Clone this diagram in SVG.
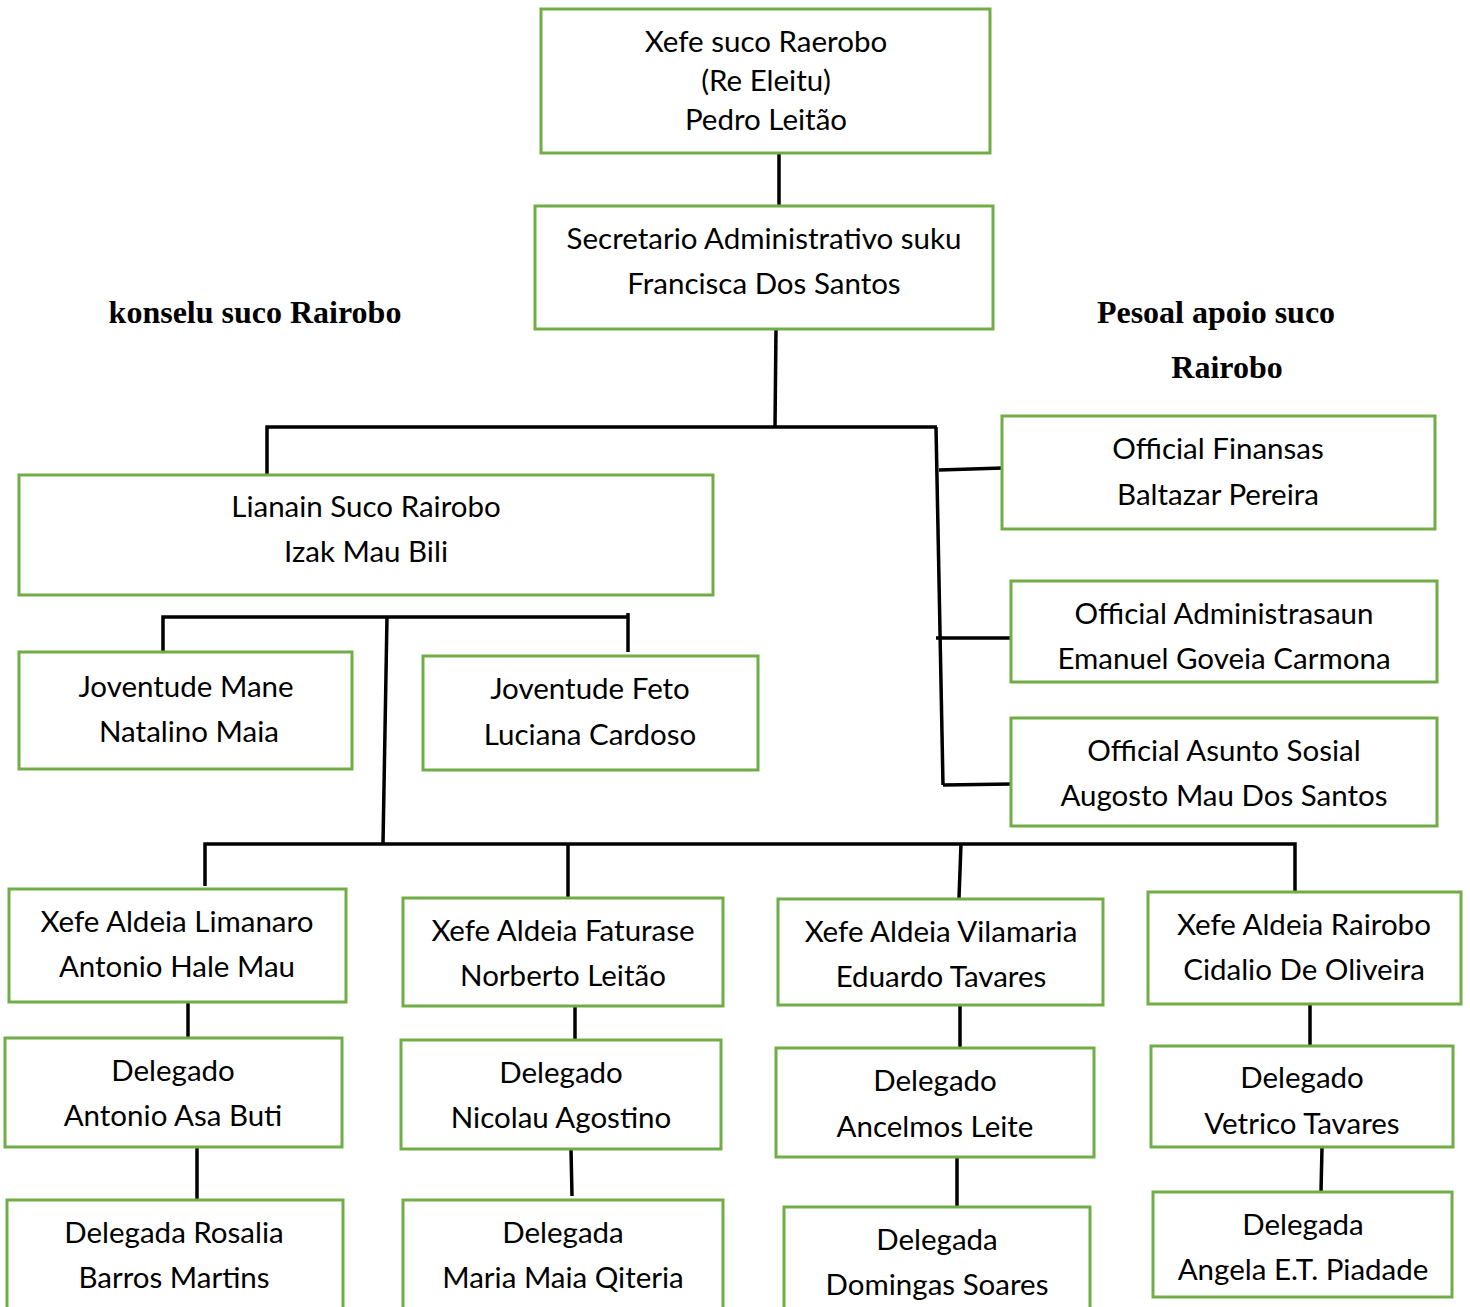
<svg xmlns="http://www.w3.org/2000/svg" width="1470" height="1307" viewBox="0 0 1470 1307">
<style>
.b{fill:#fff;stroke:#70AD47;stroke-width:3}
.t{font-family:Lato,"Liberation Sans",sans-serif;font-size:29.5px;fill:#000;text-anchor:middle;dominant-baseline:central}
.h{font-family:"Liberation Serif",serif;font-size:32px;font-weight:bold;fill:#000;text-anchor:middle;dominant-baseline:central}
.c{stroke:#000;stroke-width:3.5;fill:none}
</style>
<rect width="1470" height="1307" fill="#fff"/>
<g id="connectors" class="c">
<path d="M779 153V207"/>
<path d="M776 329L775 427"/>
<path d="M267 475V427H937"/>
<path d="M936 427L943 785"/>
<path d="M939 470L1003 468"/>
<path d="M936 638H1012"/>
<path d="M943 785L1012 784"/>
<path d="M163 654V617H628"/>
<path d="M628 613V652"/>
<path d="M387 617L383 844"/>
<path d="M205 886V844H1295V892"/>
<path d="M568 844V898"/>
<path d="M961 844L959 898"/>
<path d="M188 1002V1038"/>
<path d="M575 1006V1040"/>
<path d="M960 1005V1048"/>
<path d="M1310 1004V1046"/>
<path d="M197 1147V1200"/>
<path d="M571 1149L572 1196"/>
<path d="M957 1157V1207"/>
<path d="M1322 1147L1321 1192"/>
</g>
<text class="h" x="255" y="312">konselu suco Rairobo</text>
<text class="h" x="1216" y="312">Pesoal apoio suco</text>
<text class="h" x="1227" y="367">Rairobo</text>
<g id="xefe"><rect class="b" x="541" y="9" width="449" height="144"/><text class="t" x="766" y="40">Xefe suco Raerobo</text><text class="t" x="766" y="79">(Re Eleitu)</text><text class="t" x="766" y="118">Pedro Leitão</text></g>
<g id="secretario"><rect class="b" x="535" y="206" width="458" height="123"/><text class="t" x="764" y="237">Secretario Administrativo suku</text><text class="t" x="764" y="282">Francisca Dos Santos</text></g>
<g id="lianain"><rect class="b" x="19" y="475" width="694" height="120"/><text class="t" x="366" y="505">Lianain Suco Rairobo</text><text class="t" x="366" y="550">Izak Mau Bili</text></g>
<g id="finansas"><rect class="b" x="1002" y="416" width="433" height="113"/><text class="t" x="1218" y="447">Official Finansas</text><text class="t" x="1218" y="493">Baltazar Pereira</text></g>
<g id="administrasaun"><rect class="b" x="1011" y="581" width="426" height="101"/><text class="t" x="1224" y="612">Official Administrasaun</text><text class="t" x="1224" y="657">Emanuel Goveia Carmona</text></g>
<g id="asunto"><rect class="b" x="1011" y="718" width="426" height="108"/><text class="t" x="1224" y="749">Official Asunto Sosial</text><text class="t" x="1224" y="794">Augosto Mau Dos Santos</text></g>
<g id="joventude-mane"><rect class="b" x="19" y="652" width="333" height="117"/><text class="t" x="186" y="685">Joventude Mane</text><text class="t" x="189" y="730">Natalino Maia</text></g>
<g id="joventude-feto"><rect class="b" x="423" y="656" width="335" height="114"/><text class="t" x="590" y="687">Joventude Feto</text><text class="t" x="590" y="733">Luciana Cardoso</text></g>
<g id="limanaro"><rect class="b" x="9" y="889" width="337" height="113"/><text class="t" x="177" y="920">Xefe Aldeia Limanaro</text><text class="t" x="177" y="965">Antonio Hale Mau</text></g>
<g id="faturase"><rect class="b" x="403" y="898" width="320" height="108"/><text class="t" x="563" y="929">Xefe Aldeia Faturase</text><text class="t" x="563" y="974">Norberto Leitão</text></g>
<g id="vilamaria"><rect class="b" x="778" y="899" width="325" height="106"/><text class="t" x="941" y="930">Xefe Aldeia Vilamaria</text><text class="t" x="941" y="975">Eduardo Tavares</text></g>
<g id="rairobo"><rect class="b" x="1148" y="892" width="313" height="112"/><text class="t" x="1304" y="923">Xefe Aldeia Rairobo</text><text class="t" x="1304" y="968">Cidalio De Oliveira</text></g>
<g id="del-a1"><rect class="b" x="5" y="1038" width="337" height="109"/><text class="t" x="173" y="1069">Delegado</text><text class="t" x="173" y="1114">Antonio Asa Buti</text></g>
<g id="del-b1"><rect class="b" x="401" y="1040" width="320" height="109"/><text class="t" x="561" y="1071">Delegado</text><text class="t" x="561" y="1116">Nicolau Agostino</text></g>
<g id="del-c1"><rect class="b" x="776" y="1048" width="318" height="109"/><text class="t" x="935" y="1079">Delegado</text><text class="t" x="935" y="1125">Ancelmos Leite</text></g>
<g id="del-d1"><rect class="b" x="1151" y="1046" width="302" height="101"/><text class="t" x="1302" y="1076">Delegado</text><text class="t" x="1302" y="1122">Vetrico Tavares</text></g>
<g id="del-a2"><rect class="b" x="7" y="1200" width="336" height="115"/><text class="t" x="174" y="1231">Delegada Rosalia</text><text class="t" x="174" y="1276">Barros Martins</text></g>
<g id="del-b2"><rect class="b" x="403" y="1200" width="320" height="115"/><text class="t" x="563" y="1231">Delegada</text><text class="t" x="563" y="1276">Maria Maia Qiteria</text></g>
<g id="del-c2"><rect class="b" x="784" y="1207" width="306" height="108"/><text class="t" x="937" y="1238">Delegada</text><text class="t" x="937" y="1283">Domingas Soares</text></g>
<g id="del-d2"><rect class="b" x="1153" y="1192" width="299" height="105"/><text class="t" x="1303" y="1223">Delegada</text><text class="t" x="1303" y="1268">Angela E.T. Piadade</text></g>
</svg>
